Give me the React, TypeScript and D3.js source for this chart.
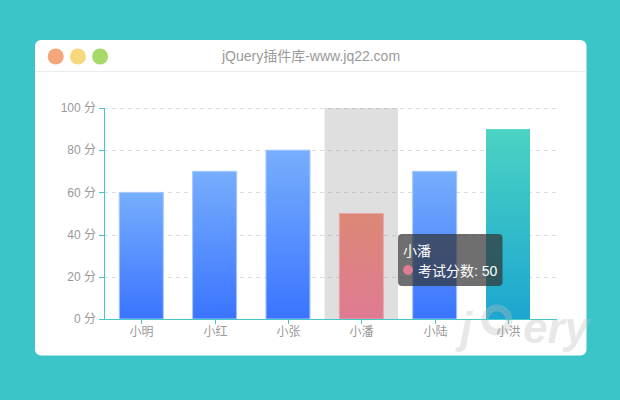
import React from 'react';
import * as d3 from 'd3';

const categories = ['小明', '小红', '小张', '小潘', '小陆', '小洪'];
const scores = [60, 70, 80, 50, 70, 90];
const yTicks = [0, 20, 40, 60, 80, 100];
const seriesName = '考试分数';
const activeIndex = 3;

// gradient per bar: [top, bottom, border]
const blue = ['#77aefd', '#3a74ff', '#a3c7ff'];
const pink = ['#dc8876', '#df7b92', '#eaa3a8'];
const teal = ['#4bd3c3', '#1ca6d0', 'none'];
const barColors = [blue, blue, blue, pink, blue, teal];

const W = 620;
const H = 400;
const font = '"Liberation Sans", "Noto Sans CJK SC", sans-serif';

export default function App() {
  const x = d3.scaleBand<string>().domain(categories).range([104.6, 544.7]).padding(0);
  const y = d3.scaleLinear().domain([0, 100]).range([319, 108]);
  const bw = x.bandwidth() * 0.6;
  const axisRight = 557;
  const axisColor = '#45c9c6';
  const wm = 'rgba(190,190,190,0.35)';

  return (
    <svg width={W} height={H} style={{ position: 'absolute', left: 0, top: 0 }}>
      <defs>
        {barColors.map((c, i) => (
          <linearGradient key={i} id={'g' + i} x1="0" y1="0" x2="0" y2="1">
            <stop offset="0%" stopColor={c[0]} />
            <stop offset="100%" stopColor={c[1]} />
          </linearGradient>
        ))}
      </defs>
      <rect width={W} height={H} fill="#3bc5c9" />
      {/* card */}
      <rect x={35} y={40} width={551.5} height={315.5} rx={6} fill="#fff" />
      <line x1={35} x2={586.5} y1={71.5} y2={71.5} stroke="#ececec" />
      {['#f6a67b', '#f8d87c', '#a8da6b'].map((c, i) => (
        <circle key={i} cx={55.7 + i * 22.2} cy={56.5} r={8} fill={c} />
      ))}
      <text x={311} y={61} textAnchor="middle" fontSize={14} fill="#9a9a9a" fontFamily={font}>
        jQuery插件库-www.jq22.com
      </text>

      {/* grid */}
      {yTicks.slice(1).map(t => (
        <line key={t} x1={104} x2={axisRight} y1={Math.round(y(t)) + 0.5} y2={Math.round(y(t)) + 0.5}
          stroke="#dcdcdc" strokeDasharray="4,4" />
      ))}

      {/* hover shadow */}
      <rect x={x(categories[activeIndex])!} y={y(100)} width={x.bandwidth()} height={y(0) - y(100)}
        fill="rgba(150,150,150,0.3)" />

      {/* bars */}
      {categories.map((c, i) => {
        const bx = x(c)! + (x.bandwidth() - bw) / 2;
        return (
          <rect key={c} x={bx} y={y(scores[i])} width={bw} height={y(0) - y(scores[i])}
            fill={`url(#g${i})`} stroke={barColors[i][2]} strokeWidth={barColors[i][2] === 'none' ? 0 : 1} />
        );
      })}

      {/* watermark */}
      <g fontStyle="italic" fontWeight="bold" fontSize={44} fill={wm} fontFamily={font}>
        <text x={460} y={343}>j</text>
        <circle cx={497} cy={320} r={12} fill="none" stroke={wm} strokeWidth={7} />
        <text x={523} y={343}>ery</text>
      </g>

      {/* y axis */}
      <line x1={104.5} x2={104.5} y1={y(100)} y2={y(0)} stroke={axisColor} />
      {yTicks.map(t => (
        <g key={t}>
          <line x1={99} x2={104.5} y1={Math.round(y(t)) + 0.5} y2={Math.round(y(t)) + 0.5} stroke={axisColor} />
          <text x={96} y={y(t)} dy="0.35em" textAnchor="end" fontSize={12} fill="#999" fontFamily={font}>
            {t} 分
          </text>
        </g>
      ))}

      {/* x axis */}
      <line x1={104} x2={axisRight} y1={319.5} y2={319.5} stroke={axisColor} />
      {categories.map(c => {
        const cx = Math.round(x(c)! + x.bandwidth() / 2) + 0.5;
        return (
          <g key={c}>
            <line x1={cx} x2={cx} y1={319.5} y2={324} stroke={axisColor} />
            <text x={cx} y={332} dy="0.35em" textAnchor="middle" fontSize={12} fill="#999" fontFamily={font}>
              {c}
            </text>
          </g>
        );
      })}

      {/* tooltip */}
      <g transform="translate(398,234)">
        <rect width={104.5} height={52} rx={4} fill="rgba(50,50,50,0.7)" />
        <text x={5} y={22} fontSize={14} fill="#fff" fontFamily={font}>{categories[activeIndex]}</text>
        <circle cx={10} cy={36} r={5} fill={barColors[activeIndex][1]} />
        <text x={20} y={41.5} fontSize={14} fill="#fff" fontFamily={font}>
          {seriesName}: {scores[activeIndex]}
        </text>
      </g>
    </svg>
  );
}
